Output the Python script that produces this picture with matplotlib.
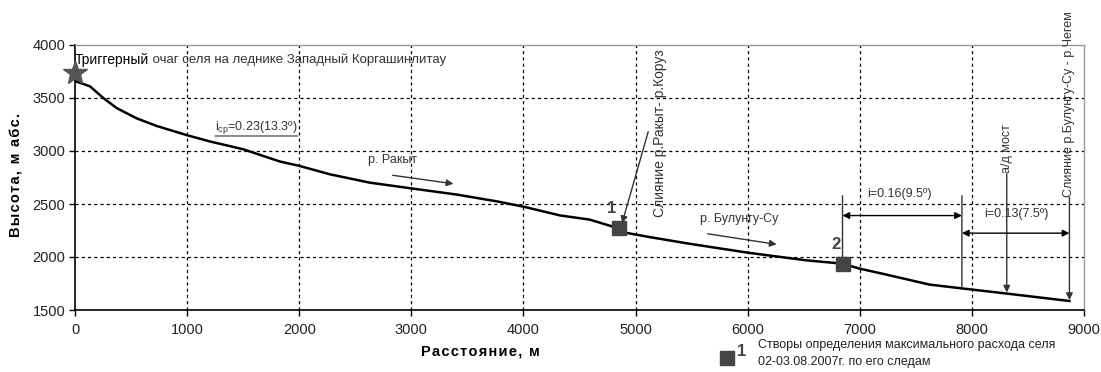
import matplotlib.pyplot as plt
from matplotlib.lines import Line2D

plt.rcParams['font.family'] = ['Liberation Sans', 'DejaVu Sans']
plt.rcParams['mathtext.default'] = 'regular'

# longitudinal profile of the channel (distance, m ; altitude, m)
DISTANCE = [0, 134, 252, 372, 550, 729, 996, 1204, 1501, 1827, 2000, 2274,
            2631, 3009, 3405, 3762, 4000, 4327, 4590, 4783, 4849, 4917, 5125,
            5481, 6000, 6519, 6846, 7000, 7237, 7621, 7917, 8311, 8870]
ALTITUDE = [3660, 3610, 3500, 3405, 3308, 3236, 3150, 3090, 3016, 2901, 2860,
            2780, 2701, 2646, 2589, 2525, 2475, 2392, 2353, 2291, 2269, 2228,
            2188, 2125, 2041, 1969, 1937, 1890, 1834, 1740, 1703, 1655, 1585]

# measurement cross-sections
SECTION_X = [4849, 6846]
SECTION_Y = [2269, 1937]
SECTION_LABELS = ["1", "2"]

SOURCE_X, SOURCE_Y = 0, 3740

XTICKS = list(range(0, 9001, 1000))
YTICKS = list(range(1500, 4001, 500))

fig = plt.figure(figsize=(11.01, 3.72), dpi=100)
ax = fig.add_axes([75 / 1101, 1 - 310 / 372, 1009 / 1101, 265 / 372])

ax.plot(DISTANCE, ALTITUDE, color='black', lw=1.8, zorder=3)
ax.plot(SECTION_X, SECTION_Y, ls='none', marker='s', ms=10, color='#444444',
        zorder=4)
ax.plot([SOURCE_X], [SOURCE_Y], marker='*', ms=18, color='#555555',
        clip_on=False, zorder=5)

for x, y, lab in zip(SECTION_X, SECTION_Y, SECTION_LABELS):
    ax.text(x - 60, y + 185, lab, fontsize=12, fontweight='bold',
            color='#444444', ha='center', va='center')

ax.set_xlim(0, 9000)
ax.set_ylim(1500, 4000)
ax.set_xticks(XTICKS)
ax.set_yticks(YTICKS)
ax.tick_params(labelsize=10.5, labelcolor='#222222', length=4, width=1,
               direction='out')
ax.tick_params(axis='y', pad=3)
ax.tick_params(axis='x', pad=5)

# dotted grid, no lines over the frame
for x in XTICKS[1:-1]:
    ax.axvline(x, color='black', lw=0.9, ls=(0, (2.5, 2.5)), zorder=1)
for y in YTICKS[1:-1]:
    ax.axhline(y, color='black', lw=0.9, ls=(0, (2.5, 2.5)), zorder=1)

for s in ['top', 'right']:
    ax.spines[s].set_color('#999999')
    ax.spines[s].set_linewidth(1)
for s in ['left', 'bottom']:
    ax.spines[s].set_color('black')
    ax.spines[s].set_linewidth(1.2)

# labels of the chart
t1 = ax.text(0, 3860, "Триггерный", fontsize=10, color='black',
             ha='left', va='center')
ax.annotate(" очаг селя на леднике Западный Коргашинлитау", xy=(1, 0.5),
            xycoords=t1, fontsize=9.5, color='#333333', ha='left', va='center')

ti = ax.text(1249, 3225, "i$_{ср}$=0.23(13.3º)", fontsize=9, color='#333333',
             ha='left', va='center')
ax.annotate('', xy=(1, -0.02), xycoords=ti, xytext=(0, -0.02), textcoords=ti,
            arrowprops=dict(arrowstyle='-', lw=0.8, color='#333333',
                            shrinkA=0, shrinkB=0))

arrow = dict(arrowstyle='-|>', lw=1, color='#333333', mutation_scale=10,
             shrinkA=0, shrinkB=0)
two_way = dict(arrowstyle='<|-|>', lw=1, color='black', mutation_scale=10,
               shrinkA=0, shrinkB=0)
plain = dict(arrowstyle='-', lw=1, color='#333333', shrinkA=0, shrinkB=0)

ax.text(2830, 2915, "р. Ракыт", fontsize=9, color='#333333', ha='center',
        va='center')
ax.annotate('', xy=(3375, 2691), xytext=(2833, 2771), arrowprops=arrow)

ax.text(5920, 2360, "р. Булунгу-Су", fontsize=9, color='#333333',
        ha='center', va='center')
ax.annotate('', xy=(6258, 2119), xytext=(5644, 2219), arrowprops=arrow)

ax.text(5222, 2380, "Слияние р.Ракыт- р.Коруз", fontsize=10, color='#333333',
        rotation=90, ha='center', va='bottom', clip_on=True)
ax.annotate('', xy=(4880, 2320), xytext=(5113, 3182), arrowprops=arrow)

ax.text(8311, 2792, "а/д мост", fontsize=9, color='#333333', rotation=90,
        ha='center', va='bottom')
ax.annotate('', xy=(8311, 1665), xytext=(8311, 2780), arrowprops=arrow)

ax.text(8870, 2566, "Слияние р.Булунгу-Су - р.Чегем", fontsize=9,
        color='#333333', rotation=90, ha='center', va='bottom')
ax.annotate('', xy=(8870, 1594), xytext=(8870, 2560), arrowprops=arrow)

# slope ranges
ax.annotate('', xy=(6846, 1960), xytext=(6846, 2578), arrowprops=plain)
ax.annotate('', xy=(7911, 1712), xytext=(7911, 2578), arrowprops=plain)
ax.annotate('', xy=(7911, 2391), xytext=(6846, 2391), arrowprops=two_way)
ax.text(7355, 2594, "i=0.16(9.5º)", fontsize=9, color='#333333',
        ha='center', va='center')
ax.annotate('', xy=(8870, 2225), xytext=(7911, 2225), arrowprops=two_way)
ax.text(8400, 2406, "i=0.13(7.5º)", fontsize=9, color='#333333',
        ha='center', va='center')

# axis titles, letter-spaced with hair spaces
fig.text(480 / 1101, 1 - 352 / 372, "\u200a".join("Расстояние, м"),
         fontsize=10.5, fontweight='bold', ha='center', va='center')
fig.text(17 / 1101, 1 - 175 / 372, "\u200a".join("Высота, м абс."),
         fontsize=10.5, fontweight='bold', rotation=90, ha='center',
         va='center')

# legend
fig.add_artist(Line2D([727 / 1101], [1 - 358 / 372], marker='s', ms=10,
                      color='#444444', transform=fig.transFigure))
fig.text(742 / 1101, 1 - 352 / 372, "1", fontsize=12, fontweight='bold',
         color='#444444', ha='center', va='center')
fig.text(758 / 1101, 1 - 345 / 372,
         "Створы определения максимального расхода селя", fontsize=9,
         color='#222222', ha='left', va='center')
fig.text(758 / 1101, 1 - 362 / 372, "02-03.08.2007г. по его следам",
         fontsize=9, color='#222222', ha='left', va='center')

fig.savefig("out.png", dpi=100)
